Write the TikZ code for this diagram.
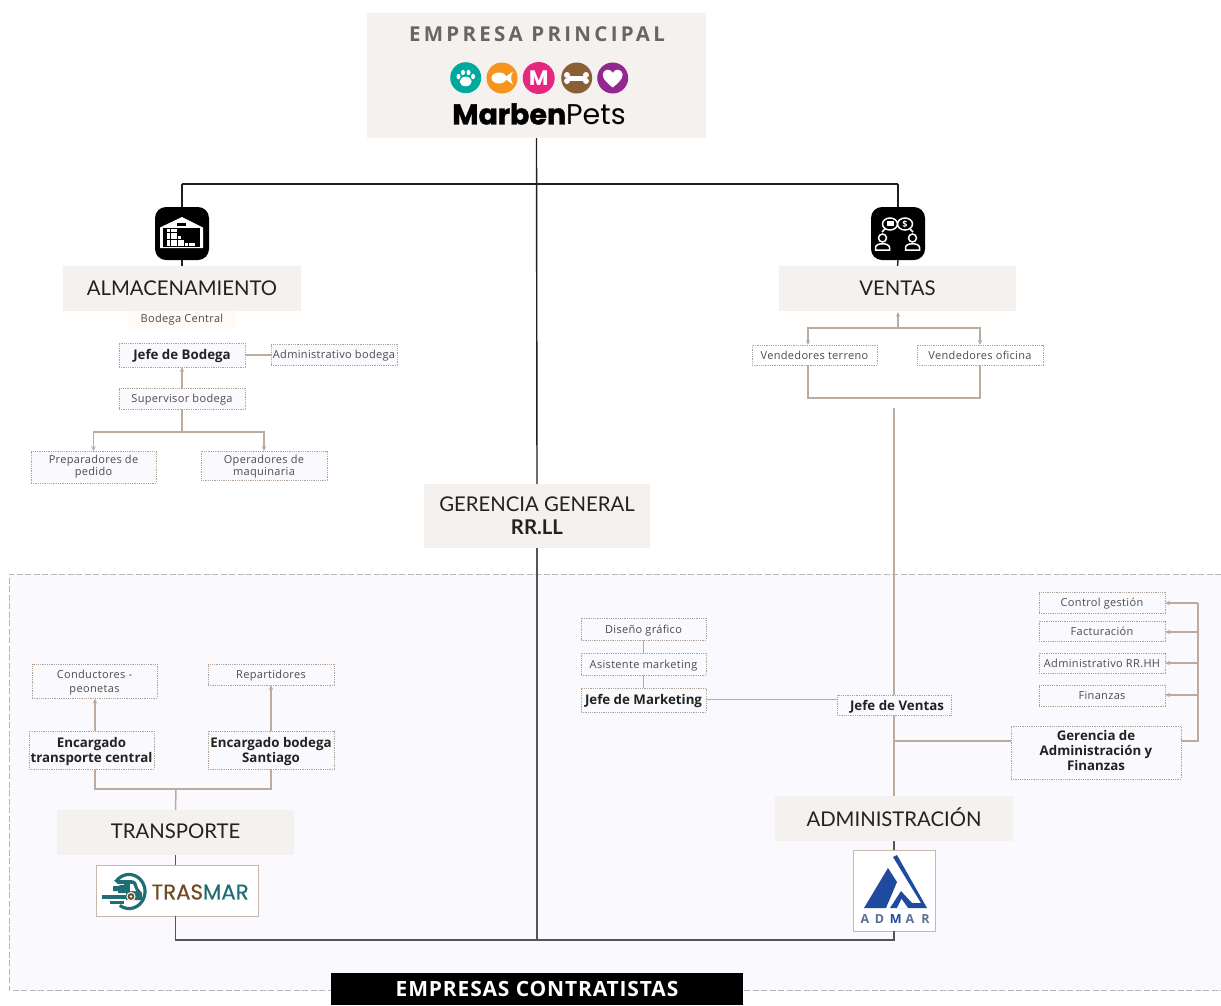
\documentclass[tikz,border=0pt]{standalone}
\usepackage{fontspec}
\usetikzlibrary{arrows.meta,calc}
\setmainfont{Open Sans}
\newfontfamily\titlef{Lato}
\newfontfamily\logof{Poppins}
\newfontfamily\logofb[FakeBold=1.2]{Poppins Bold}
\newfontfamily\trasf[FakeBold=.4]{Poppins}
\newfontfamily\spacedf[LetterSpace=16]{Open Sans}
\newfontfamily\spacedb[LetterSpace=4]{Open Sans}
\newfontfamily\smallf[LetterSpace=3]{Open Sans}
\definecolor{beige}{HTML}{F4F1EE}
\definecolor{tan}{HTML}{BCAC9D}
\definecolor{dotc}{HTML}{B3A395}
\definecolor{panelc}{HTML}{FAF9FE}
\definecolor{dark}{HTML}{222222}
\definecolor{midgrey}{HTML}{555555}
\definecolor{teal}{HTML}{1F6E74}
\definecolor{brownT}{HTML}{6E4A25}
\definecolor{cTeal}{HTML}{00A99D}
\definecolor{cOrange}{HTML}{F7941E}
\definecolor{cPink}{HTML}{E6267F}
\definecolor{cBrown}{HTML}{8A5F36}
\definecolor{cPurple}{HTML}{92278F}
\definecolor{admBlue}{HTML}{1F4A9E}
\definecolor{admText}{HTML}{5B6F96}
\tikzset{
  sect/.style={fill=beige,text=dark,font=\titlef\fontsize{20.3}{24}\selectfont,align=center},
  item/.style={draw=dotc,densely dotted,line width=.8pt,fill=panelc,text=black!70,font=\smallf\fontsize{11}{12}\selectfont,align=center,text depth=-1pt},
  multi/.style={text depth=},
  itemw/.style={item,fill=white},
  boss/.style={item,text=dark,font=\fontsize{13.3}{15}\selectfont\bfseries},
  logobox/.style={draw=tan!85,line width=.8pt,fill=white},
  main/.style={line width=1.4pt,draw=black!88},
  sub/.style={line width=1.4pt,draw=midgrey},
  link/.style={line width=1.5pt,draw=tan},
  linka/.style={link,-{Stealth[length=5pt,width=4.5pt]}},
  wsym/.style={fill=white,draw=none},
  wline/.style={draw=white,line width=1.5pt,fill=none},
  admL/.style={inner sep=0pt,font=\fontsize{12.5}{13}\selectfont\bfseries,text=admText},
}
\newcommand{\bx}[7]{\node[#6,inner sep=0pt,outer sep=0pt,minimum width=#4pt-#2pt,minimum height=#5pt-#3pt] (#1) at ({(#2+#4)/2},{(#3+#5)/2}) {#7};}
\begin{document}
\begin{tikzpicture}[x=1pt,y=-1pt]
\useasboundingbox (0,0) rectangle (1221,1005);
% panel
\fill[panelc] (9,574) rectangle (1221,990);
\draw[draw=black!28,line width=1pt,dash pattern=on 6pt off 2.5pt] (1221,574) -- (9,574) -- (9,990) -- (1221,990);
% coordinates for free ends and junctions
\coordinate (barL) at (182,184);
\coordinate (barR) at (898,184);
\coordinate (botbar) at (537,940);
\coordinate (admTop) at (894,408);
\coordinate (gerJ) at (894,741);
% section boxes
\bx{emp}{367}{13}{706}{138}{fill=beige}{}
\bx{alm}{63}{266}{301}{311}{sect,text depth=-2pt}{ALMACENAMIENTO}
\bx{ven}{779}{266}{1016}{311}{sect,text depth=-2pt}{VENTAS}
\bx{gg}{424}{484}{650}{548}{sect,text depth=-2pt}{GERENCIA GENERAL\\[-1pt]{\bfseries RR.LL}}
\bx{tra}{57}{810}{294}{855}{sect}{\raisebox{2pt}{TRANSPORTE}}
\bx{adm}{775}{796}{1013}{841}{sect}{\raisebox{2pt}{ADMINISTRACIÓN}}
\bx{ctr}{331}{973}{743}{1005}{fill=black,text=white,text depth=-6pt,font=\spacedb\fontsize{21}{24}\selectfont\bfseries}{EMPRESAS CONTRATISTAS}
% icon squares and logo boxes
\bx{icoA}{155}{207}{209}{260}{fill=black,rounded corners=11pt}{}
\bx{icoV}{871}{207}{925}{260}{fill=black,rounded corners=11pt}{}
\bx{lgT}{96}{865}{258}{916}{logobox}{}
\bx{lgA}{853}{850}{935}{931}{logobox}{}
% main lines
\draw[main] (emp.south) -- (gg.north);
\draw[main] (barL) -- (barR);
\draw[main] (barL) -- (icoA.north);
\draw[main] (barR) -- (icoV.north);
\draw[main] (icoA.south) -- (alm.north);
\draw[main] (icoV.south) -- (ven.north);
\draw[sub] (gg.south) -- (botbar);
\draw[sub] (tra.south) -- (tra.south|-lgT.north);
\draw[sub] (adm.south) -- (lgA.north);
\draw[sub] (tra.south|-lgT.south) |- (botbar);
\draw[sub] (lgA.south) |- (botbar);
% almacenamiento
\bx{bod}{128}{311}{236}{329}{fill=orange!4,text=black!70,font=\smallf\fontsize{11}{12}\selectfont}{Bodega Central}
\bx{jb}{119}{343}{245}{367}{boss,text depth=1pt}{Jefe de Bodega}
\bx{ab}{271}{344}{397}{365}{item}{Administrativo bodega}
\bx{sb}{119}{388}{245}{409}{item}{Supervisor bodega}
\bx{pp}{31}{451}{156}{483}{item,multi}{Preparadores de\\pedido}
\bx{om}{201}{451}{327}{480}{item,text depth=1pt}{Operadores de\\maquinaria}
\draw[link] (jb.east) -- (jb.east-|ab.west);
\draw[linka] (sb.north) -- (jb.south);
\coordinate (sbJ) at (182,432);
\draw[link] (sb.south) -- (sbJ);
\draw[linka] (sbJ) -| (pp.north);
\draw[linka] (sbJ) -| (om.north);
% ventas
\bx{vt}{752}{345}{877}{365}{itemw}{Vendedores terreno}
\bx{vo}{917}{345}{1043}{365}{itemw}{Vendedores oficina}
\coordinate (vtx) at (808,345);
\coordinate (vox) at (980,345);
\coordinate (vtb) at (808,365);
\coordinate (vob) at (980,365);
\coordinate (vJ) at (898,328);
\coordinate (vU) at (898,312);
\draw[linka] (vJ) -- (vU);
\draw[linka] (vJ) -| (vtx);
\draw[linka] (vJ) -| (vox);
\draw[link] (vtb) -- (808,398) -- (980,398) -- (vob);
% transporte
\bx{etc}{29}{731}{154}{769}{boss,text depth=-.5pt,fill=panelc}{Encargado\\transporte central}
\bx{ebs}{208}{731}{334}{769}{boss,text depth=-.5pt,fill=panelc}{Encargado bodega\\Santiago}
\bx{con}{32}{664}{157}{698}{item}{Conductores -\\[2pt]peonetas}
\bx{rep}{208}{664}{334}{685}{item}{Repartidores}
\coordinate (trJ) at (176,789);
\coordinate (etcB) at (95,769);
\coordinate (etcT) at (95,731);
\coordinate (conB) at (95,698.5);
\draw[link] (tra.north) -- (trJ);
\draw[link] (etcB) |- (trJ);
\draw[link] (ebs.south) |- (trJ);
\draw[linka] (etcT) -- (conB);
\draw[linka] (ebs.north) -- (rep.south);
% administracion
\draw[link] (admTop) -- (adm.north);
\bx{jv}{837}{695}{951}{715}{boss,text depth=-2pt}{\hspace*{6pt}Jefe de Ventas}
\bx{df}{581}{618}{706}{640}{item}{Diseño gráfico}
\bx{am}{581}{653}{706}{675}{item}{Asistente marketing}
\bx{jm}{581}{688}{706}{712}{boss,text depth=1pt}{Jefe de Marketing}
\draw[link] (df.south) -- (am.north);
\draw[link] (am.south) -- (jm.north);
\coordinate (jmE) at (706,699.5);
\coordinate (jvW) at (837,699.5);
\draw[link] (jmE) -- (jvW);
\bx{gaf}{1011}{726}{1181}{779}{boss,text depth=4pt,fill=panelc}{Gerencia de\\Administración y\\Finanzas}
\coordinate (gafW) at (1011,741);
\coordinate (gafE) at (1181,741);
\draw[link] (gerJ) -- (gafW);
\bx{cg}{1039}{592}{1165}{613}{item}{Control gestión}
\bx{fa}{1039}{621}{1165}{641}{item}{Facturación}
\bx{ar}{1039}{653}{1165}{673}{item}{Administrativo RR.HH}
\bx{fi}{1039}{685}{1165}{706}{item}{Finanzas}
\coordinate (gR) at (1198,741);
\coordinate (r1) at (1198,603);
\coordinate (r2) at (1198,632);
\coordinate (r3) at (1198,663);
\coordinate (r4) at (1198,695);
\draw[link] (gafE) -- (gR) -- (r1);
\draw[linka] (r1) -- (cg.east|-r1);
\draw[linka] (r2) -- (fa.east|-r2);
\draw[linka] (r3) -- (ar.east|-r3);
\draw[linka] (r4) -- (fi.east|-r4);
% header text and logo
\node[text=black!60,font=\spacedf\fontsize{20.5}{24}\selectfont\bfseries] (empT) at (537,34) {EMPRESA PRINCIPAL};
\node[inner sep=0pt,font=\logof\fontsize{28.5}{30}\selectfont] (mbT) at (539,114) {{\logofb Marben}Pets};
\fill[cTeal] (465.7,77.7) circle (15.5);
\fill[cOrange] (502,78) circle (15.5);
\fill[cPink] (538.7,78) circle (16);
\fill[cBrown] (576.7,78) circle (15.5);
\fill[cPurple] (612.7,78) circle (15.5);
% paw
\fill[wsym] (465.7,81.5) ellipse (6 and 4.8);
\foreach \a/\b in {458.5/76.5,463/72.5,468.5/72.5,473/76.5}{\fill[wsym] (\a,\b) ellipse (2 and 2.7);}
% fish
\fill[wsym] (499,78) ellipse (7.5 and 5.5);
\fill[wsym] (504,78) -- (513,71.5) .. controls (510.5,76) and (510.5,80) .. (513,84.5) -- cycle;
% M
\node[inner sep=0pt,text=white,font=\logof\fontsize{21}{22}\selectfont\bfseries] (mT) at (538.7,78) {M};
% bone
\fill[wsym] (568,75.5) rectangle (586,80.5);
\foreach \a/\b in {567/75,567/81,586/75,586/81}{\fill[wsym] (\a,\b) circle (3);}
% heart
\fill[wsym] (612.7,87.5) .. controls (603,80) and (601,75) .. (604,71.5) .. controls (607,68.5) and (611,69.5) .. (612.7,73) .. controls (614.4,69.5) and (618.4,68.5) .. (621.4,71.5) .. controls (624.4,75) and (622.4,80) .. (612.7,87.5) -- cycle;
% warehouse icon
\fill[wsym] (160,248) -- (160,227.5) -- (182,217) -- (203,227.5) -- (203,248) -- cycle;
\fill[black] (163,247) -- (163,228) -- (200,228) -- (200,247) -- cycle;
\fill[black] (177,223) rectangle (186,226);
\foreach \r/\n in {0/3,1/3,2/4,3/5,4/8}{
  \foreach \k in {1,...,\n}{\fill[wsym] ({167+3.6*(\k-1)},{229+3.6*\r}) rectangle ++(3,3);}
}
% sales icon
\draw[wline] (890,224) ellipse (7.5 and 6);
\draw[wline] (905,224) ellipse (7.5 and 6);
\draw[wline] (885,229) -- (882,232);
\draw[wline] (910,229) -- (913,232);
\fill[wsym] (886.5,221) rectangle (893.5,226);
\node[inner sep=0pt,text=white,font=\fontsize{9}{9}\selectfont\bfseries] (dol) at (905,224) {\$};
\draw[wline] (882.5,238) circle (4);
\draw[wline] (912.5,238) circle (4);
\draw[wline] (875.5,250) -- (875.5,247.5) .. controls (875.5,242.5) and (889.5,242.5) .. (889.5,247.5) -- (889.5,250) -- cycle;
\draw[wline] (905.5,250) -- (905.5,247.5) .. controls (905.5,242.5) and (919.5,242.5) .. (919.5,247.5) -- (919.5,250) -- cycle;
% trasmar logo
\draw[teal,line width=3.2pt] plot[domain=-145:125,samples=50] ({129+16*cos(\x)},{891.5+17*sin(\x)});
\fill[teal] (114,880) -- (131,880) .. controls (136,881) .. (138,888) -- (142,893) -- (142,900) -- (126,900) -- (126,893) -- (118,893) -- (118,891) -- (113,891) -- (113,886) -- (120,886) -- cycle;
\fill[white] (130,884) -- (133,884) -- (136,891) -- (130,891) -- cycle;
\fill[white] (113,883.5) rectangle (124,885);
\fill[teal] (102,895) rectangle (128,899);
\fill[teal] (110,901) rectangle (124,903.5);
\fill[white] (131,896.5) circle (4.6);
\fill[brownT] (131,896.5) circle (3.4);
\fill[white] (131,896.5) circle (1.3);
\node[inner sep=0pt,font=\trasf\fontsize{21.3}{22}\selectfont,anchor=west] (trT) at (151.5,892) {\textcolor{brownT}{TRAS}\textcolor{teal}{MAR}};
% admar logo
\fill[admBlue] (864,908) -- (888,868) -- (897,882) -- (886,908) -- cycle;
\fill[admBlue] (893,857) -- (897,855) -- (927,908) -- (890,908) -- (901,891) -- (912,903) -- (921,903) -- cycle;
\fill[white] (897,908) -- (901.5,899) -- (908,908) -- cycle;
\node[admL] (a1) at (865,919) {A};
\node[admL] (a2) at (879.5,919) {D};
\node[admL,text=admBlue] (a3) at (895.7,919) {M};
\node[admL] (a4) at (910,919) {A};
\node[admL] (a5) at (925.5,919) {R};
\end{tikzpicture}
\end{document}
